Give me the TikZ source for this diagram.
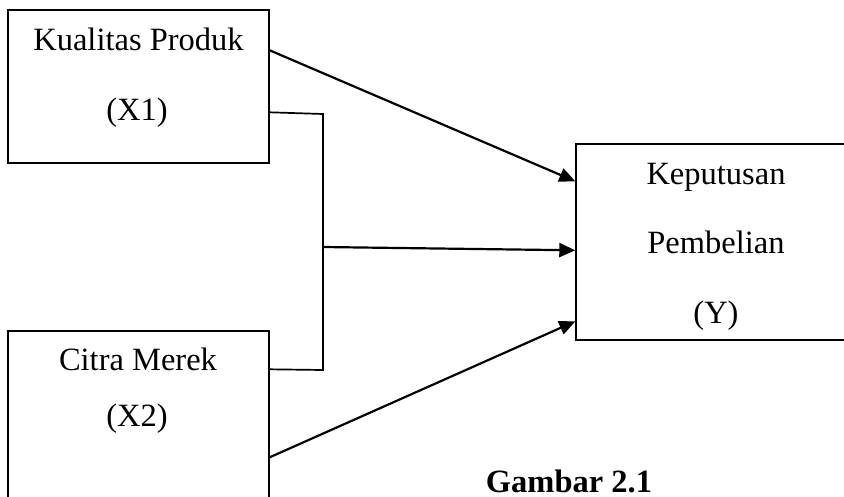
\documentclass[tikz,border=0pt]{standalone}
\usepackage{fontspec}
\setmainfont{Liberation Serif}
\usetikzlibrary{arrows.meta}
\begin{document}
\begin{tikzpicture}[x=1pt,y=-1pt,
  box/.style={draw, line width=1.4pt, rectangle, inner sep=0pt},
  lbl/.style={inner sep=0pt, anchor=base, font=\fontsize{32.5}{39}\selectfont},
  captxt/.style={inner sep=0pt, anchor=base, font=\fontsize{32.5}{39}\selectfont\bfseries},
  arr/.style={line width=2.2pt, -{Triangle[length=16pt,width=14pt]}},
  link/.style={line width=1.7pt}]
\useasboundingbox (0,0) rectangle (844,496);
\clip (0,0) rectangle (844,496);
\fill[white] (0,0) rectangle (844,496);
% boxes
\node[box, minimum width=261pt, minimum height=153pt] (x1) at (138.5,86.5) {};
\node[box, minimum width=261pt, minimum height=269pt] (x2) at (138.5,465.5) {};
\node[box, minimum width=280pt, minimum height=196pt] (y) at (716,242) {};
% labels
\node[lbl] (t1a) at (138.5,50) {Kualitas Produk};
\node[lbl] (t1b) at (137,120) {(X1)};
\node[lbl] (t2a) at (138,370) {Citra Merek};
\node[lbl] (t2b) at (137,426) {(X2)};
\node[lbl] (tya) at (716,184) {Keputusan};
\node[lbl] (tyb) at (716,253) {Pembelian};
\node[lbl] (tyc) at (716,323) {(Y)};
\node[captxt] (caption) at (569,492) {Gambar 2.1};
% bracket junction
\coordinate (jtop) at (323,114);
\coordinate (jmid) at (323,247);
\coordinate (jbot) at (323,370);
\draw[link] ([yshift=-103pt]x1.north east) -- (jtop) -- (jbot) -- ([yshift=-39pt]x2.north east);
% arrows
\draw[arr] ([yshift=-41pt]x1.north east) -- ([yshift=-38pt]y.north west);
\draw[arr] (jmid) -- ([yshift=-107pt]y.north west);
\draw[arr] ([yshift=-127pt]x2.north east) -- ([yshift=-178pt]y.north west);
\end{tikzpicture}
\end{document}
